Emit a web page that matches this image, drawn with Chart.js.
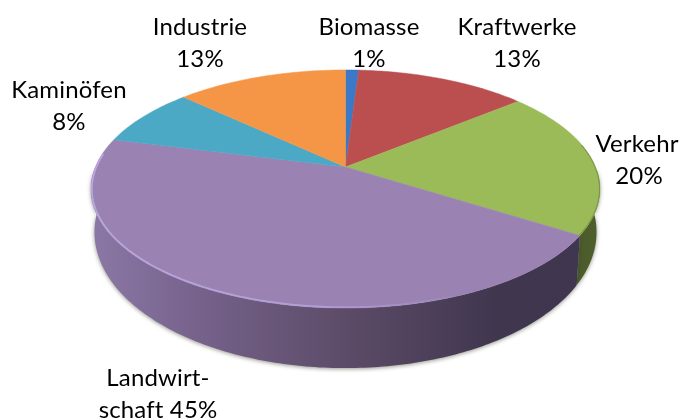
<!DOCTYPE html>
<html><head><meta charset="utf-8">
<style>html,body{margin:0;padding:0;background:#fff}canvas{display:block;filter:blur(0.35px)}</style>
<script src="https://cdn.jsdelivr.net/npm/chart.js@4"></script>
</head><body><canvas id="c" width="684" height="420"></canvas>
<script>
const categories = ["Biomasse","Kraftwerke","Verkehr","Landwirtschaft","Kaminöfen","Industrie"];
const shares = [1,13,20,45,8,13];
const labelLines = [["Biomasse","1%"],["Kraftwerke","13%"],["Verkehr","20%"],["Landwirt-","schaft 45%"],["Kaminöfen","8%"],["Industrie","13%"]];
const faceColors = ["#3b78c6","#bb4f4f","#9bbb59","#9a82b3","#4ba9c5","#f49646"];
const labelAnchors = [[369,35,369,67],[517,35,517,67],[637,152,639,184],[158,386,158,418],[69,98,69,130],[200,35,200,67]];
const wallStops = [
 [[0,"#2c5a94"],[1,"#1d3e68"]],
 [[0,"#7d3432"],[1,"#5a2423"]],
 [[0,"#3e4e22"],[1,"#4f5f2c"]],
 [[0,"#8b78a6"],[0.21,"#76628b"],[0.49,"#5d4c69"],[0.8,"#40364e"],[1,"#3f364f"]],
 [[0,"#2f7a90"],[1,"#2f7a90"]],
 [[0,"#b06a2c"],[1,"#b06a2c"]]
];
const topFace = {cx:345.5, cy:167, A:250.1, B:115, q:0.185};
const baseFace = {cx:345.5, cy:207, A:246.7, B:131.3, q:0.185};
function project(f,a){const u=Math.cos(a),v=Math.sin(a),w=1-f.q*v;return [f.cx+u*f.A/w,f.cy+v*f.B/w];}
function trace(ctx,f,a0,a1,move){
  const n=Math.max(2,Math.ceil(Math.abs(a1-a0)/0.015));
  for(let i=0;i<=n;i++){const p=project(f,a0+(a1-a0)*i/n);(i===0&&move)?ctx.moveTo(p[0],p[1]):ctx.lineTo(p[0],p[1]);}
}
const solidPie = {
  id:'solidPie',
  beforeDatasetsDraw(chart){
    const ctx=chart.ctx, arcs=chart.getDatasetMeta(0).data;
    const slices=arcs.map((el,i)=>{const p=el.getProps(['startAngle','endAngle'],true);return {i,a0:p.startAngle,a1:p.endAngle,color:el.options.backgroundColor};});
    const front=slices.map(s=>{
      const lo=Math.max(s.a0,0.02), hi=Math.min(s.a1,Math.PI-0.02);
      return {...s,lo,hi};
    }).filter(s=>s.hi>s.lo).sort((a,b)=>Math.abs(b.lo+b.hi-Math.PI)-Math.abs(a.lo+a.hi-Math.PI));
    front.forEach(s=>{
      const g=ctx.createLinearGradient(91,0,600,0);
      const stops=s.i===2?[[0.85,wallStops[2][0][1]],[1,wallStops[2][1][1]]]:wallStops[s.i];
      stops.forEach(t=>g.addColorStop(t[0],t[1]));
      ctx.save();
      ctx.shadowColor='rgba(60,66,50,0.55)';ctx.shadowBlur=4;ctx.shadowOffsetY=1;
      ctx.beginPath();trace(ctx,topFace,s.lo,s.hi,true);trace(ctx,baseFace,s.hi,s.lo,false);ctx.closePath();
      ctx.fillStyle=g;ctx.fill();ctx.restore();
    });
    slices.forEach(s=>{
      ctx.beginPath();ctx.moveTo(topFace.cx,topFace.cy);trace(ctx,topFace,s.a0,s.a1,false);ctx.closePath();
      ctx.fillStyle=s.color;ctx.fill();ctx.strokeStyle=s.color;ctx.lineWidth=0.5;ctx.stroke();
    });
    const V=slices[2];
    ctx.save();
    ctx.beginPath();trace(ctx,topFace,0,Math.PI*2,true);ctx.closePath();ctx.clip();
    const h=ctx.createLinearGradient(91,0,470,0);
    h.addColorStop(0,'rgba(188,168,226,0.95)');h.addColorStop(0.6,'rgba(188,168,226,0.7)');h.addColorStop(1,'rgba(188,168,226,0)');
    ctx.beginPath();trace(ctx,topFace,1.2,Math.PI+0.12,true);ctx.strokeStyle=h;ctx.lineWidth=3.5;ctx.stroke();
    ctx.beginPath();trace(ctx,topFace,-0.2,V.a1,true);ctx.strokeStyle='rgba(80,92,44,0.4)';ctx.lineWidth=2;ctx.stroke();
    ctx.restore();
    ctx.fillStyle='#000';ctx.font='24px Lato';ctx.letterSpacing='0.15px';ctx.textAlign='center';ctx.textBaseline='alphabetic';
    labelLines.forEach((ls,i)=>{const a=labelAnchors[i];ctx.fillText(ls[0],a[0],a[1]);ctx.fillText(ls[1],a[2],a[3]);});
    return false;
  }
};
new Chart(document.getElementById('c'),{
  type:'pie',
  data:{labels:categories,datasets:[{data:shares,backgroundColor:faceColors,borderWidth:0}]},
  options:{responsive:false,animation:false,plugins:{legend:{display:false},tooltip:{enabled:false}}},
  plugins:[solidPie]
});
</script></body></html>
